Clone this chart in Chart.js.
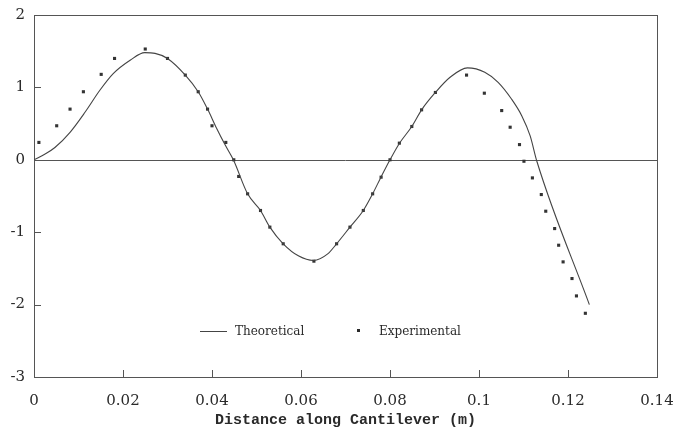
<!DOCTYPE html>
<html>
<head>
<meta charset="utf-8">
<script src="https://cdn.jsdelivr.net/npm/chart.js@4/dist/chart.umd.min.js"></script>
<style>
	html, body { margin: 0; padding: 0; background: #fff; }
	#wrap { width: 673px; height: 432px; }
</style>
</head>
<body>
<div id="wrap"><canvas id="main-chart" width="673" height="432"></canvas></div>
<script>
// theoretical mode shape
var theoX = [0, 0.0025, 0.0047, 0.0081, 0.0115, 0.0148, 0.0178, 0.0216, 0.0249, 0.0272, 0.0300, 0.0340,
	0.0369, 0.0390, 0.0410, 0.0430, 0.0448, 0.0480, 0.0509, 0.0530, 0.0560, 0.0595, 0.0628, 0.0660,
	0.0680, 0.0710, 0.0740, 0.0761, 0.0780, 0.0800, 0.0821, 0.0849, 0.0871, 0.0902, 0.0935, 0.0974,
	0.1013, 0.1043, 0.1073, 0.1096, 0.1115, 0.1130, 0.1248];
var theoY = [0, 0.08, 0.17, 0.38, 0.66, 0.96, 1.19, 1.375, 1.48, 1.47, 1.40, 1.17,
	0.94, 0.70, 0.44, 0.20, 0, -0.47, -0.70, -0.93, -1.16, -1.33, -1.39, -1.30,
	-1.16, -0.93, -0.70, -0.47, -0.236, 0, 0.226, 0.46, 0.69, 0.93, 1.14, 1.27,
	1.21, 1.07, 0.84, 0.61, 0.33, -0.02, -2.0];

// measured points
var expX = [0.0011, 0.0051, 0.0081, 0.0111, 0.0151, 0.0181, 0.0250, 0.0300, 0.0340, 0.0369, 0.0390, 0.0400,
	0.0431, 0.0449, 0.0460, 0.0480, 0.0509, 0.0530, 0.0560, 0.0629, 0.0680, 0.0710, 0.0740, 0.0761,
	0.0780, 0.0800, 0.0821, 0.0849, 0.0871, 0.0902, 0.0972, 0.1012, 0.1051, 0.1070, 0.1091, 0.1101,
	0.1120, 0.1140, 0.1150, 0.1170, 0.1179, 0.1189, 0.1209, 0.1219, 0.1239];
var expY = [0.24, 0.47, 0.70, 0.94, 1.18, 1.40, 1.53, 1.40, 1.17, 0.94, 0.70, 0.47,
	0.24, 0, -0.23, -0.47, -0.70, -0.93, -1.16, -1.40, -1.16, -0.93, -0.70, -0.47,
	-0.24, 0, 0.23, 0.46, 0.69, 0.93, 1.17, 0.92, 0.68, 0.45, 0.21, -0.02,
	-0.25, -0.48, -0.71, -0.95, -1.18, -1.41, -1.64, -1.88, -2.12];

var xTitle = 'Distance along Cantilever (m)';
var seriesNames = ['Theoretical', 'Experimental'];

function pairs(xs, ys) {
	return xs.map(function (v, i) { return { x: v, y: ys[i] }; });
}

var ink = '#2a2a2a';

// box, zero line and the short inward ticks
var framePlugin = {
	id: 'frame',
	beforeDatasetsDraw(chart) {
		var ctx = chart.ctx, a = chart.chartArea, sx = chart.scales.x, sy = chart.scales.y;
		ctx.save();
		ctx.strokeStyle = '#555';
		ctx.lineWidth = 1;
		ctx.strokeRect(a.left + 0.5, a.top + 0.5, a.right - a.left, a.bottom - a.top);
		var y0 = Math.round(sy.getPixelForValue(0)) + 0.5;
		ctx.beginPath();
		ctx.moveTo(a.left, y0);
		ctx.lineTo(a.right, y0);
		sx.ticks.forEach(function (t) {
			var px = Math.round(sx.getPixelForValue(t.value)) + 0.5;
			ctx.moveTo(px, a.bottom);
			ctx.lineTo(px, a.bottom - 7);
		});
		sy.ticks.forEach(function (t) {
			var py = Math.round(sy.getPixelForValue(t.value)) + 0.5;
			ctx.moveTo(a.left, py);
			ctx.lineTo(a.left + 7, py);
		});
		ctx.stroke();
		ctx.restore();
	}
};

// legend sits inside the plot, near the bottom
var legendPlugin = {
	id: 'inlegend',
	afterDraw(chart) {
		var ctx = chart.ctx, a = chart.chartArea;
		var ly = a.bottom - 46;
		var lx = a.left + 166;
		ctx.save();
		ctx.font = '12px "DejaVu Serif"';
		ctx.fillStyle = ink;
		ctx.textBaseline = 'middle';
		ctx.strokeStyle = '#444';
		ctx.lineWidth = 1;
		ctx.beginPath();
		ctx.moveTo(lx, ly + 0.5);
		ctx.lineTo(lx + 27, ly + 0.5);
		ctx.stroke();
		ctx.fillText(chart.data.datasets[0].label, lx + 35, ly + 1);
		ctx.fillRect(lx + 157, ly - 2, 3, 3);
		ctx.fillText(chart.data.datasets[1].label, lx + 179, ly + 1);
		ctx.restore();
	}
};

var ctx = document.getElementById('main-chart');
var chart = new Chart(ctx, {
	type: 'scatter',
	data: {
		datasets: [{
			label: seriesNames[0],
			data: pairs(theoX, theoY),
			showLine: true,
			borderColor: '#444',
			borderWidth: 1.1,
			pointRadius: 0,
			cubicInterpolationMode: 'monotone',
			fill: false
		}, {
			label: seriesNames[1],
			data: pairs(expX, expY),
			showLine: false,
			pointStyle: 'rect',
			pointRadius: 2.2,
			pointBorderWidth: 0,
			backgroundColor: '#333',
			borderColor: '#333'
		}]
	},
	options: {
		responsive: false,
		animation: false,
		layout: { padding: { top: 15, right: 16, left: 0, bottom: 0 } },
		plugins: {
			legend: { display: false },
			tooltip: { enabled: false }
		},
		scales: {
			x: {
				type: 'linear',
				min: 0,
				max: 0.14,
				grid: { display: false, drawTicks: false },
				border: { display: false },
				ticks: {
					stepSize: 0.02,
					padding: 15,
					color: ink,
					font: { family: 'DejaVu Serif', size: 15 },
					maxRotation: 0,
					// 0.1 not 0.10, 0 not 0.00
					callback: function (v) { return String(+v.toFixed(2)); }
				},
				title: {
					display: true,
					text: xTitle,
					color: ink,
					font: { family: 'Liberation Mono', size: 15, weight: 'bold' },
					padding: { top: 4, bottom: 3 }
				},
				afterFit: function (s) {
					s.height = 55;
					s.paddingLeft = 0;
					s.paddingRight = 0;
				}
			},
			y: {
				min: -3,
				max: 2,
				grid: { display: false, drawTicks: false },
				border: { display: false },
				ticks: {
					stepSize: 1,
					padding: 9,
					color: ink,
					font: { family: 'DejaVu Serif', size: 15 }
				},
				afterFit: function (s) {
					s.width = 34;
					s.paddingTop = 0;
					s.paddingBottom = 0;
				}
			}
		}
	},
	plugins: [framePlugin, legendPlugin]
});
</script>
</body>
</html>
